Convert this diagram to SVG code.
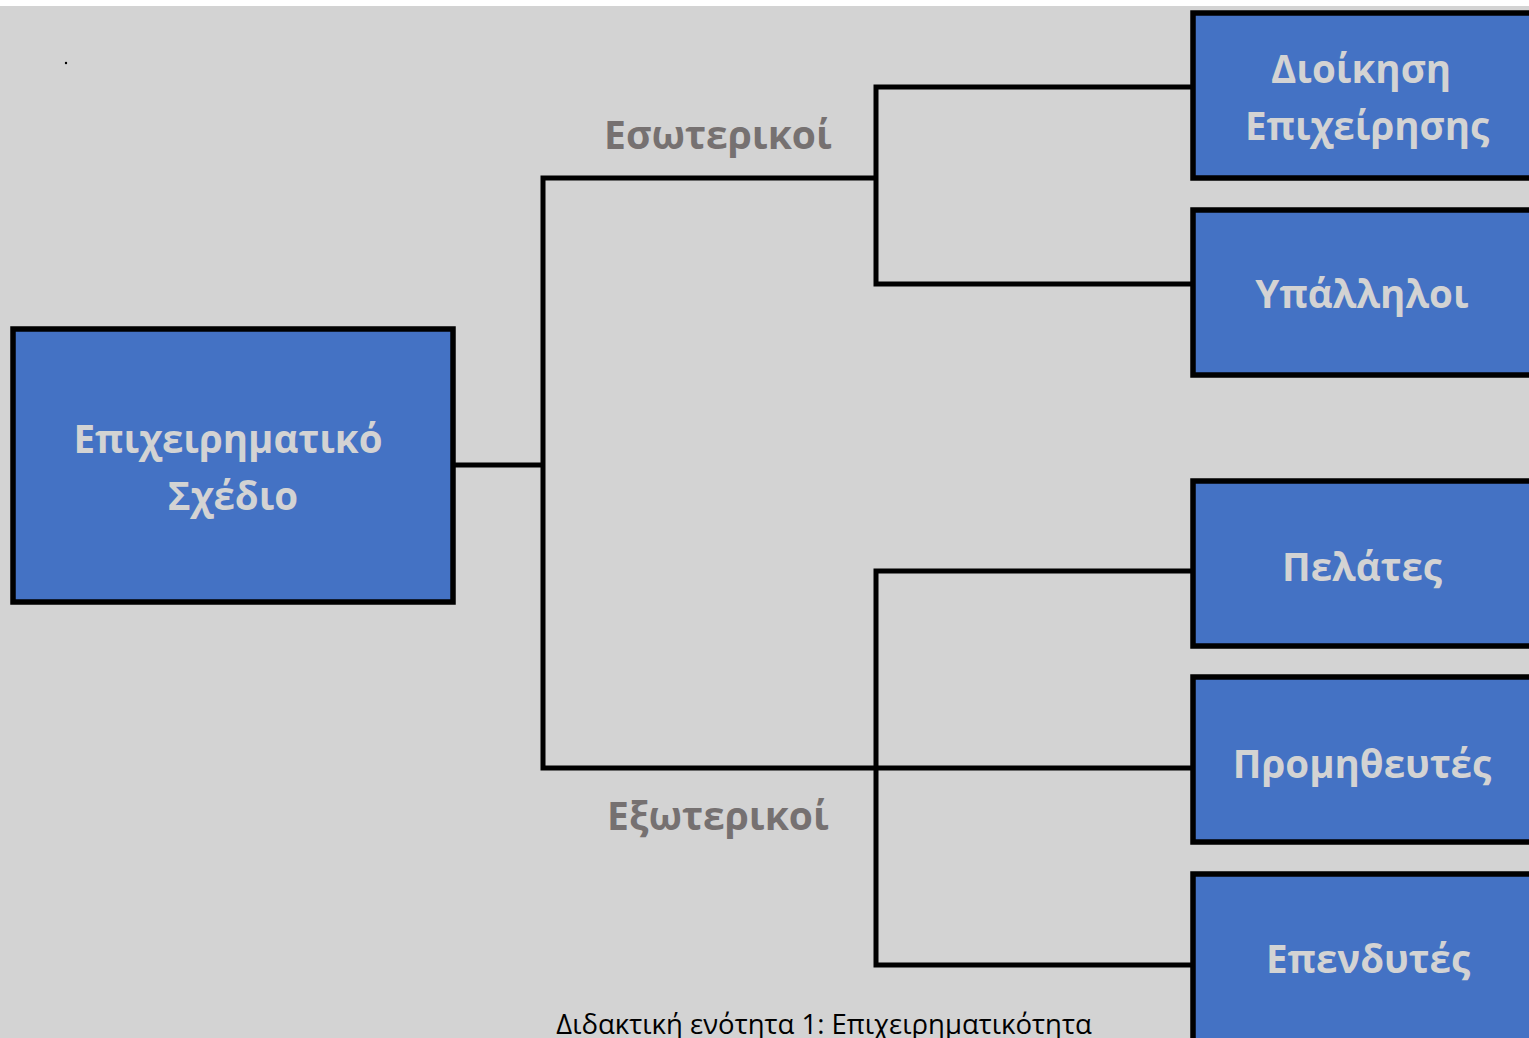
<svg xmlns="http://www.w3.org/2000/svg" width="1529" height="1038" viewBox="0 0 1529 1038">
<style>
.box{fill:#4472C4;stroke:#000;stroke-width:5.5}
.bt{font-family:"Open Sans","DejaVu Sans",sans-serif;font-weight:bold;font-size:38.5px;fill:#D3D3D3;text-anchor:middle}
.lbl{font-family:"Open Sans","DejaVu Sans",sans-serif;font-weight:bold;font-size:39px;fill:#767171;text-anchor:middle}
.ln{stroke:#000;stroke-width:5;fill:none}
</style>
<rect x="0" y="0" width="1529" height="1038" fill="#FFFFFF"/>
<rect x="0" y="6" width="1529" height="1032" fill="#D3D3D3"/>
<circle cx="66" cy="63" r="1.2" fill="#000"/>
<g id="connectors">
<polyline class="ln" points="455,465 543,465"/>
<polyline class="ln" points="876,178 543,178 543,768 1192,768"/>
<polyline class="ln" points="1192,87 876,87 876,284 1192,284"/>
<polyline class="ln" points="1192,571 876,571 876,965 1192,965"/>
</g>
<g id="n-main"><rect class="box" x="13" y="329" width="440" height="273"/>
<text class="bt" x="228" y="453">Επιχειρηματικό</text><text class="bt" x="233" y="510">Σχέδιο</text></g>
<g id="l-int"><text class="lbl" x="718" y="149">Εσωτερικοί</text></g>
<g id="l-ext"><text class="lbl" x="718" y="830">Εξωτερικοί</text></g>
<g id="n-dioikisi"><rect class="box" x="1193" y="13" width="345" height="165"/>
<text class="bt" x="1361" y="83">Διοίκηση</text><text class="bt" x="1367" y="140">Επιχείρησης</text></g>
<g id="n-ypalliloi"><rect class="box" x="1193" y="210" width="345" height="165"/>
<text class="bt" x="1362" y="308">Υπάλληλοι</text></g>
<g id="n-pelates"><rect class="box" x="1193" y="481" width="345" height="165"/>
<text class="bt" x="1362" y="581">Πελάτες</text></g>
<g id="n-promitheutes"><rect class="box" x="1193" y="677" width="345" height="165"/>
<text class="bt" x="1362" y="778">Προμηθευτές</text></g>
<g id="n-ependytes"><rect class="box" x="1193" y="874" width="345" height="180"/>
<text class="bt" x="1368" y="973">Επενδυτές</text></g>
<text x="824" y="1034" font-family="'Open Sans','DejaVu Sans',sans-serif" font-size="27.5" fill="#000" text-anchor="middle">Διδακτική ενότητα 1: Επιχειρηματικότητα</text>
</svg>
